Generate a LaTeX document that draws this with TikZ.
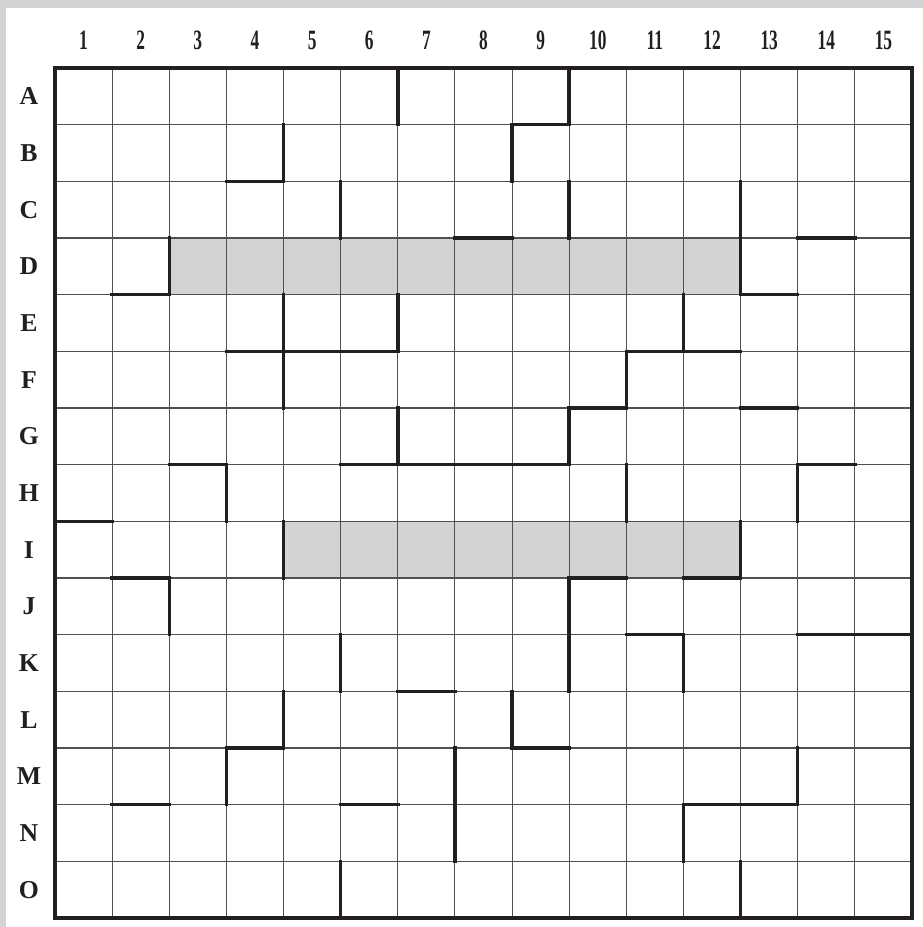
\documentclass[tikz,border=0pt]{standalone}
\usepackage{fontspec}
\setmainfont{Liberation Serif}
\definecolor{cellgray}{HTML}{D1D3D4}
\definecolor{gridc}{HTML}{505050}
\definecolor{ink}{HTML}{231F20}
\tikzset{
  thinline/.style={draw=gridc, line width=0.8pt},
  wall/.style={draw=ink, line width=2.6pt, line cap=rect},
  frameline/.style={draw=ink, line width=3pt},
  collabel/.style={font=\bfseries\fontsize{21}{21}\selectfont, text=ink, inner sep=0pt},
  rowlabel/.style={font=\bfseries\fontsize{19.3}{19.3}\selectfont, text=ink, inner sep=0pt, text depth=0pt},
}
\begin{document}
\begin{tikzpicture}[x=0.75pt,y=-0.75pt]
\useasboundingbox (0,0) rectangle (923,927);
\fill[white] (0,0) rectangle (923,927);
\fill[cellgray] (0,0) rectangle (923,8);
\fill[cellgray] (0,0) rectangle (6,927);
\begin{scope}[xshift=41.25pt, yshift=-51pt, x=42.85pt, y=-42.5pt]
  % shaded rows
  \fill[cellgray] (2,3) rectangle (12,4);
  \fill[cellgray] (4,8) rectangle (12,9);
  % thin grid
  \foreach \i in {1,...,14} {
    \draw[thinline] (\i,0) -- (\i,15);
    \draw[thinline] (0,\i) -- (15,\i);
  }
  % vertical walls: line / from row / to row
  \foreach \i/\a/\b in {6/0/1, 4/1/2, 5/2/3, 9/0/1, 8/1/2, 9/2/3, 12/2/4, 2/3/4,
      4/4/5, 6/4/5, 11/4/5, 4/5/6, 10/5/6, 6/6/7, 9/6/7, 3/7/8, 10/7/8, 13/7/8,
      4/8/9, 12/8/9, 2/9/10, 9/9/10, 5/10/11, 9/10/11, 11/10/11, 4/11/12, 8/11/12,
      3/12/13, 7/12/14, 13/12/13, 11/13/14, 5/14/15, 12/14/15}
    \draw[wall] (\i,\a) -- (\i,\b);
  % horizontal walls: line / from col / to col
  \foreach \j/\a/\b in {1/8/9, 2/3/4, 3/7/8, 3/13/14, 4/1/2, 4/12/13, 5/3/6, 5/10/12,
      6/9/10, 6/12/13, 7/2/3, 7/5/9, 7/13/14, 8/0/1, 9/1/2, 9/9/10, 9/11/12,
      10/10/11, 10/13/15, 11/6/7, 12/3/4, 12/8/9, 13/1/2, 13/5/6, 13/11/13}
    \draw[wall] (\a,\j) -- (\b,\j);
  % frame
  \draw[frameline] (0,0) rectangle (15,15);
  % column labels
  \foreach \n in {1,...,15}
    \node[collabel] (c\n) at (\n-0.5,-0.485) {\scalebox{0.62}[1]{\n}};
  % row labels
  \foreach \l [count=\k from 0] in {A,B,C,D,E,F,G,H,I,J,K,L,M,N,O}
    \node[rowlabel] (r\l) at (-0.455,\k+0.5) {\l};
\end{scope}
\end{tikzpicture}
\end{document}
